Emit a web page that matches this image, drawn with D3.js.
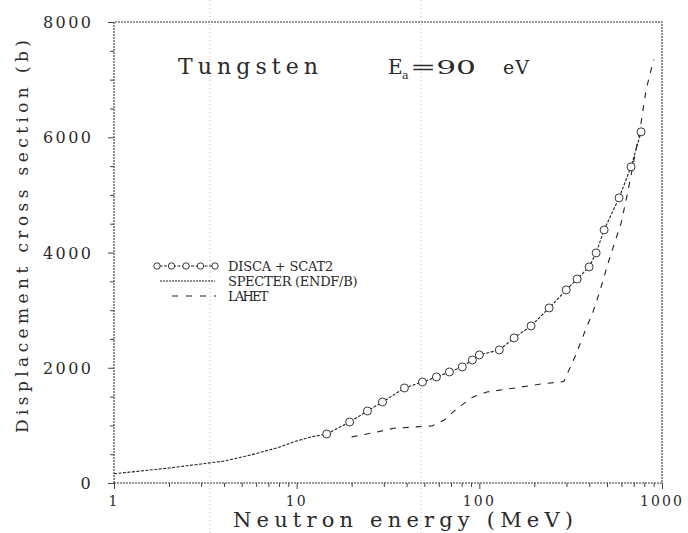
<!DOCTYPE html>
<html>
<head>
<meta charset="utf-8">
<script src="https://cdn.jsdelivr.net/npm/d3@7"></script>
<style>
body { margin: 0; background: #fff; }
svg { display: block; }
text { font-family: "DejaVu Serif", "Liberation Serif", serif; fill: #2a2a2a; }
</style>
</head>
<body>
<script>
// values (energy in MeV, cross section in barns)
const specterE = [1, 2, 3, 4, 5, 6, 8, 10, 12, 14.6];
const specterV = [160, 260, 330, 380, 450, 510, 620, 730, 800, 850];

const discaE = [14.6, 19.5, 24.4, 29.5, 38.9, 48.8, 58.2, 68.6, 80.7, 91.6, 100, 128.6, 155, 192, 241, 299, 343, 399, 436, 482, 582, 677, 768];
const discaV = [850, 1059, 1250, 1406, 1649, 1753, 1840, 1927, 2014, 2135, 2222, 2309, 2517, 2726, 3038, 3351, 3540, 3750, 3993, 4392, 4948, 5486, 6094];

const lahetE = [20, 27, 34, 43, 55, 64, 76, 92, 110, 150, 220, 290, 337, 385, 417, 453, 513, 597, 636, 686, 768, 818, 871, 905];
const lahetV = [800, 880, 950, 970, 990, 1090, 1300, 1490, 1580, 1640, 1720, 1760, 2220, 2690, 2950, 3290, 3870, 4510, 4910, 5430, 6250, 6820, 7170, 7350];

const yTicks = [0, 2000, 4000, 6000, 8000];
const xTicks = [1, 10, 100, 1000];

const W = 688, H = 533;
const svg = d3.select(document.body).append('svg')
  .attr('width', W).attr('height', H);
svg.append('rect').attr('width', W).attr('height', H).attr('fill', '#fff');

const x = d3.scaleLog().domain([1, 1000]).range([114, 662]);
const y = d3.scaleLinear().domain([0, 8000]).range([483, 22]);

// faint scan fold lines
[210, 421].forEach(px => {
  svg.append('line').attr('x1', px).attr('x2', px).attr('y1', 0).attr('y2', H)
    .attr('stroke', '#bbb').attr('stroke-width', 1).attr('stroke-dasharray', '1,3');
});

// spaced text (old plotter look)
function label(g, px, py, s, size, len, adj) {
  return g.append('text').attr('x', px).attr('y', py).attr('font-size', size)
    .attr('textLength', len).attr('lengthAdjust', adj || 'spacing').text(s);
}

// frame
const frame = 'stroke:#333;stroke-width:1.1;stroke-dasharray:2,1;fill:none';
svg.append('path').attr('style', frame)
  .attr('d', `M${x(1)},${y(0)}H${x(1000)}V${y(8000)}H${x(1)}Z`);

// y axis ticks
const minorY = d3.range(0, 8001, 500).filter(v => v % 2000);
svg.append('g').attr('transform', `translate(${x(1)},0)`)
  .call(d3.axisLeft(y).tickValues(minorY).tickSize(4).tickFormat(''))
  .call(g => g.select('.domain').remove())
  .call(g => g.selectAll('line').attr('stroke', '#444'));
svg.append('g').attr('transform', `translate(${x(1)},0)`)
  .call(d3.axisLeft(y).tickValues(yTicks).tickSize(6).tickFormat(''))
  .call(g => g.select('.domain').remove())
  .call(g => g.selectAll('line').attr('stroke', '#444'));
yTicks.forEach(v => {
  const s = String(v);
  label(svg, 93 - s.length * 12.5, y(v) + 6, s, 16, s.length * 12.5 - 2);
});

// x axis ticks
const minorX = [];
[1, 10, 100].forEach(d => d3.range(2, 10).forEach(k => minorX.push(d * k)));
svg.append('g').attr('transform', `translate(0,${y(0)})`)
  .call(d3.axisBottom(x).tickValues(minorX).tickSize(4).tickFormat(''))
  .call(g => g.select('.domain').remove())
  .call(g => g.selectAll('line').attr('stroke', '#444'));
svg.append('g').attr('transform', `translate(0,${y(0)})`)
  .call(d3.axisBottom(x).tickValues(xTicks).tickSize(6).tickFormat(''))
  .call(g => g.select('.domain').remove())
  .call(g => g.selectAll('line').attr('stroke', '#444'));
xTicks.forEach(v => {
  const s = String(v);
  const w = s.length * 11;
  label(svg, x(v) - w / 2, 506, s, 14, w - 2);
});

// axis titles
label(svg, 233, 527, 'Neutron energy (MeV)', 21, 340);
svg.append('text').attr('transform', 'translate(28,433) rotate(-90)').attr('font-size', 17)
  .attr('textLength', 393).attr('lengthAdjust', 'spacing')
  .text('Displacement cross section (b)');

// annotations
label(svg, 178, 74, 'Tungsten', 22, 140);
svg.append('text').attr('x', 388).attr('y', 74).attr('font-size', 20).text('E');
svg.append('text').attr('x', 402).attr('y', 79).attr('font-size', 11).text('a');
label(svg, 410, 74, '=90', 19, 66, 'spacingAndGlyphs');
label(svg, 503, 74, 'eV', 19, 26);

// series
const line = d3.line().x(d => x(d[0])).y(d => y(d[1]));
const specter = d3.zip(specterE, specterV);
const disca = d3.zip(discaE, discaV);
const lahet = d3.zip(lahetE, lahetV);

svg.append('path').datum(specter).attr('d', line).attr('fill', 'none')
  .attr('stroke', '#222').attr('stroke-width', 1.1).attr('stroke-dasharray', '3,1.5');
svg.append('path').datum(lahet).attr('d', line).attr('fill', 'none')
  .attr('stroke', '#222').attr('stroke-width', 1.1).attr('stroke-dasharray', '6,7');
svg.append('path').datum(disca).attr('d', line).attr('fill', 'none')
  .attr('stroke', '#222').attr('stroke-width', 1.1).attr('stroke-dasharray', '3,1.5');
svg.append('g').selectAll('circle').data(disca).join('circle')
  .attr('cx', d => x(d[0])).attr('cy', d => y(d[1])).attr('r', 4)
  .attr('fill', '#fff').attr('stroke', '#222').attr('stroke-width', 0.9);

// legend
const lg = svg.append('g');
lg.append('line').attr('x1', 155).attr('x2', 218).attr('y1', 266).attr('y2', 266)
  .attr('stroke', '#222').attr('stroke-width', 1.1).attr('stroke-dasharray', '3,1.5');
lg.selectAll('circle').data(d3.range(5)).join('circle')
  .attr('cx', i => 157 + i * 14.5).attr('cy', 266).attr('r', 3.2)
  .attr('fill', '#fff').attr('stroke', '#222').attr('stroke-width', 0.9);
lg.append('line').attr('x1', 160).attr('x2', 215).attr('y1', 281).attr('y2', 281)
  .attr('stroke', '#222').attr('stroke-width', 1.1).attr('stroke-dasharray', '2,1');
lg.append('line').attr('x1', 172).attr('x2', 216).attr('y1', 296).attr('y2', 296)
  .attr('stroke', '#222').attr('stroke-width', 1.1).attr('stroke-dasharray', '6,8');
const legendText = ['DISCA + SCAT2', 'SPECTER (ENDF/B)', 'LAHET'];
legendText.forEach((t, i) => {
  label(lg, 228, 271 + i * 15, t, 13, t.length * 8.1);
});
</script>
</body>
</html>
